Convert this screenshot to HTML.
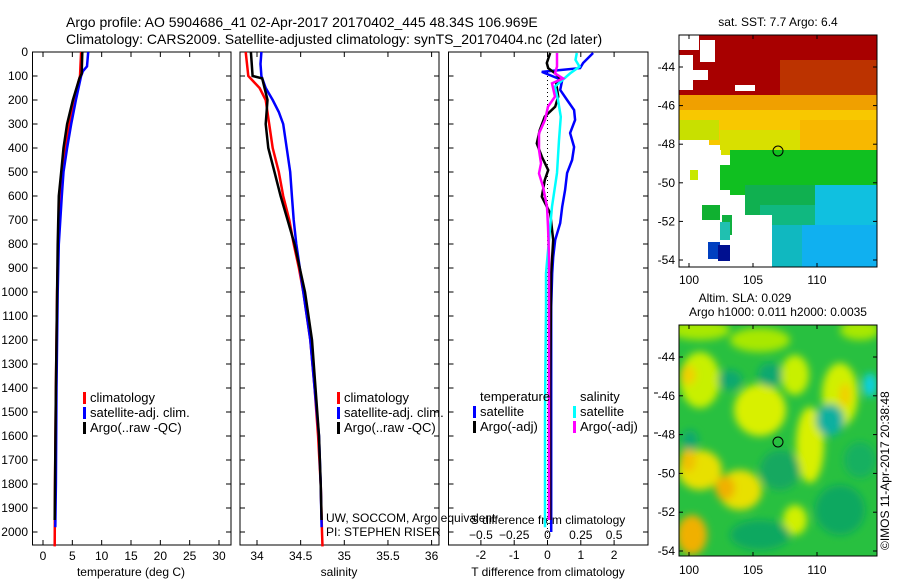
<!DOCTYPE html>
<html><head><meta charset="utf-8"><style>
html,body{margin:0;padding:0;background:#fff;}
svg{display:block;font-family:"Liberation Sans",sans-serif;}
</style></head><body>
<svg id="chart" width="900" height="580" viewBox="0 0 900 580" xmlns="http://www.w3.org/2000/svg">
<defs>
<filter id="blur" x="-20%" y="-20%" width="140%" height="140%"><feGaussianBlur stdDeviation="4"/></filter>
<clipPath id="m1clip"><rect x="679" y="35" width="198" height="232"/></clipPath>
<clipPath id="m2clip"><rect x="679" y="325" width="198" height="231"/></clipPath>
</defs>
<g font-size="14" fill="#000">
<text x="66" y="27">Argo profile: AO 5904686_41 02-Apr-2017 20170402_445 48.34S 106.969E</text>
<text x="66" y="44">Climatology: CARS2009. Satellite-adjusted climatology: synTS_20170404.nc (2d later)</text>
</g>

<!-- SST map -->
<g clip-path="url(#m1clip)">
<rect x="679" y="35" width="198" height="232" fill="#fff"/>
<rect x="679" y="35" width="198" height="65" fill="#a80000"/>
<rect x="780" y="60" width="97" height="60" fill="#c04000" opacity="0.8"/>
<rect x="679" y="95" width="198" height="25" fill="#f0a000"/>
<rect x="679" y="110" width="198" height="35" fill="#f8c800"/>
<rect x="679" y="120" width="40" height="20" fill="#c8e000"/>
<rect x="720" y="130" width="157" height="25" fill="#d8e000"/>
<rect x="800" y="120" width="77" height="35" fill="#f8b800"/>
<rect x="730" y="150" width="147" height="45" fill="#10c020"/>
<rect x="745" y="185" width="132" height="30" fill="#10b050"/>
<rect x="760" y="205" width="117" height="62" fill="#10b880"/>
<rect x="815" y="185" width="62" height="82" fill="#10c0e0"/>
<rect x="785" y="225" width="92" height="42" fill="#10b0f0"/>
<rect x="679" y="35" width="20" height="15" fill="#fff"/>
<rect x="700" y="40" width="15" height="22" fill="#fff"/>
<rect x="679" y="55" width="14" height="35" fill="#fff"/>
<rect x="693" y="70" width="15" height="10" fill="#fff"/>
<rect x="735" y="85" width="20" height="6" fill="#fff"/>
<rect x="679" y="140" width="30" height="127" fill="#fff"/>
<rect x="709" y="150" width="12" height="8" fill="#fff"/>
<rect x="700" y="160" width="30" height="107" fill="#fff"/>
<rect x="730" y="195" width="12" height="72" fill="#fff"/>
<rect x="742" y="215" width="30" height="52" fill="#fff"/>
<rect x="702" y="205" width="18" height="15" fill="#10b030"/>
<rect x="720" y="165" width="20" height="25" fill="#10c020"/>
<rect x="722" y="215" width="10" height="20" fill="#10b040"/>
<rect x="720" y="222" width="10" height="18" fill="#20c0b0"/>
<rect x="690" y="170" width="8" height="10" fill="#c8e800"/>
<rect x="708" y="242" width="12" height="17" fill="#0040c0"/>
<rect x="718" y="245" width="12" height="16" fill="#001090"/>
<rect x="772" y="225" width="30" height="42" fill="#10b8c0"/>
</g>
<circle cx="778" cy="151" r="5" fill="none" stroke="#000" stroke-width="1"/>
<rect x="679" y="35" width="198" height="232" fill="none" stroke="#000"/>
<text x="778" y="26" font-size="12" text-anchor="middle">sat. SST: 7.7 Argo: 6.4</text>

<!-- SLA map -->
<g clip-path="url(#m2clip)">
<rect x="679" y="325" width="198" height="231" fill="#28c040"/>
<g filter="url(#blur)">
<ellipse cx="700" cy="330" rx="30" ry="10" fill="#a8e800"/>
<ellipse cx="700" cy="380" rx="20" ry="28" fill="#c8f000"/>
<ellipse cx="688" cy="375" rx="8" ry="10" fill="#f0d000"/>
<ellipse cx="760" cy="410" rx="26" ry="26" fill="#d8f000"/>
<ellipse cx="795" cy="375" rx="14" ry="20" fill="#c8f000"/>
<ellipse cx="810" cy="445" rx="14" ry="38" fill="#d8f000"/>
<ellipse cx="840" cy="395" rx="18" ry="32" fill="#d0f000"/>
<ellipse cx="845" cy="395" rx="6" ry="12" fill="#f0d000"/>
<ellipse cx="700" cy="470" rx="22" ry="20" fill="#e8e000"/>
<ellipse cx="740" cy="490" rx="22" ry="20" fill="#e8e000"/>
<ellipse cx="725" cy="488" rx="10" ry="12" fill="#f0b000"/>
<ellipse cx="688" cy="460" rx="8" ry="12" fill="#f0c000"/>
<ellipse cx="692" cy="535" rx="15" ry="20" fill="#f0b000"/>
<ellipse cx="795" cy="520" rx="12" ry="15" fill="#d0f000"/>
<ellipse cx="760" cy="340" rx="30" ry="12" fill="#a8e800"/>
<ellipse cx="860" cy="330" rx="20" ry="10" fill="#a8e800"/>
<ellipse cx="830" cy="420" rx="14" ry="16" fill="#10b0a0"/>
<ellipse cx="870" cy="385" rx="7" ry="12" fill="#10d0e0"/>
<ellipse cx="770" cy="375" rx="12" ry="12" fill="#10a870"/>
<ellipse cx="730" cy="380" rx="12" ry="10" fill="#10a870"/>
<ellipse cx="690" cy="440" rx="8" ry="10" fill="#10a870"/>
<ellipse cx="760" cy="535" rx="30" ry="15" fill="#10a860"/>
<ellipse cx="840" cy="510" rx="25" ry="25" fill="#10a860"/>
<ellipse cx="780" cy="470" rx="20" ry="20" fill="#18a860"/>
<ellipse cx="860" cy="460" rx="16" ry="18" fill="#18b060"/>
</g>
</g>
<circle cx="778" cy="442" r="5" fill="none" stroke="#000" stroke-width="1"/>
<rect x="679" y="325" width="198" height="231" fill="none" stroke="#000"/>
<text x="745" y="302" font-size="12" text-anchor="middle">Altim. SLA: 0.029</text>
<text x="778" y="316" font-size="12" text-anchor="middle">Argo h1000: 0.011 h2000: 0.0035</text>
<text transform="translate(889,550) rotate(-90)" font-size="12">©IMOS 11-Apr-2017 20:38:48</text>

<g id="plots"></g>
</svg>
<script>
// ---------- data ----------
const tempClimDepth = [0,100,200,300,400,500,600,800,1000,1400,1800,2060];
const tempClim      = [6.5,6.3,5.2,4.5,3.8,3.3,2.9,2.6,2.4,2.2,2.05,2.0];
const tempSatDepth  = [0,60,80,100,200,300,400,500,600,800,1000,1400,1800,1980];
const tempSat       = [7.7,7.5,6.8,6.5,5.6,4.8,4.1,3.5,3.2,2.7,2.5,2.3,2.2,2.1];
const tempArgoDepth = [0,90,110,200,300,400,500,600,800,1000,1400,1950];
const tempArgo      = [6.7,6.6,6.2,5.1,4.1,3.5,3.1,2.7,2.5,2.4,2.2,2.0];

const salClimDepth = [0,100,150,200,300,400,500,600,700,800,900,1000,1200,1400,1600,1800,2000,2060];
const salClim      = [33.87,33.90,34.03,34.10,34.14,34.18,34.25,34.30,34.37,34.42,34.48,34.53,34.61,34.66,34.70,34.73,34.745,34.75];
const salSatDepth  = [0,50,100,150,200,250,300,400,500,600,700,800,900,1000,1200,1400,1600,1800,1980];
const salSat       = [34.05,34.04,34.05,34.10,34.18,34.25,34.30,34.34,34.38,34.40,34.42,34.45,34.49,34.53,34.61,34.66,34.71,34.73,34.74];
const salArgoDepth = [0,100,110,200,300,400,500,600,700,800,1000,1200,1400,1600,1800,1950];
const salArgo      = [33.93,33.95,34.06,34.12,34.10,34.13,34.20,34.27,34.35,34.43,34.55,34.63,34.67,34.71,34.73,34.74];

const dTSatDepth  = [4,46,67,83,117,158,200,242,283,338,396,450,504,575,645,713,783,854,921,1062,1500,2000];
const dTSat       = [1.37,1.07,0.98,-0.17,0.44,0.38,0.59,0.80,0.83,0.68,0.80,0.74,0.59,0.53,0.44,0.38,0.23,0.17,0.14,0.11,0.11,0.11];
const dTArgoDepth = [4,46,67,89,110,131,186,228,269,325,381,436,492,533,603,672,783,922,1400,1950];
const dTArgo      = [0.08,-0.02,0.02,0.23,0.38,0.26,0.32,0.23,-0.08,-0.23,-0.32,-0.17,0.02,-0.08,-0.17,0.08,0.17,0.11,0.08,0.08];
const dSSatDepth  = [4,33,61,89,144,200,270,367,504,644,783,922,1061,1500,1980];
const dSSat       = [0.22,0.21,0.24,0.17,0.056,0.079,0.10,0.086,0.071,0.034,0.011,-0.011,-0.011,-0.019,-0.019];
const dSArgoDepth = [4,61,89,110,131,186,228,283,339,408,464,506,561,644,728,853,1400,1950];
const dSArgo      = [0.071,0.071,0.056,0.117,0.034,0.056,0.004,-0.019,-0.064,-0.064,-0.049,-0.064,-0.034,-0.004,0.004,0.011,0.011,0.011];

const depthTicks = [0,100,200,300,400,500,600,700,800,900,1000,1100,1200,1300,1400,1500,1600,1700,1800,1900,2000];
const tempTicks = [0,5,10,15,20,25,30];
const salTicks = [34,34.5,35,35.5,36];
const salTickLabels = ["34","34.5","35","35.5","36"];
const dTTicks = [-2,-1,0,1,2];
const dSTicks = [-0.5,-0.25,0,0.25,0.5];
const dSTickLabels = ["\u22120.5","\u22120.25","0","0.25","0.5"];
const mapLonTicks = [100,105,110];
const sstLatTicks = [-44,-46,-48,-50,-52,-54];
const slaLatTicks = [-44,-46,-48,-50,-52,-54];

// ---------- axes ----------
const NS='http://www.w3.org/2000/svg';
const root=document.getElementById('plots');
const TOP=52, BOT=545;
const yD = d => 52 + d*0.24;
const xT = v => 43 + v*5.867;
const xS = v => 257 + (v-34)*87.3;
const xDT = v => 547.5 + v*33.3;
const xDS = v => 547.5 + v*133.2;
const lonX = v => 689 + (v-100)*12.8;
const lat1Y = v => 67 + (-44 - v)*19.3;
const lat2Y = v => 357 + (-44 - v)*19.4;

function mk(tag, attrs, parent){const e=document.createElementNS(NS,tag);for(const k in attrs)e.setAttribute(k,attrs[k]);(parent||root).appendChild(e);return e;}
function txt(x,y,s,anchor,size,parent){const t=mk('text',{x:x,y:y,'font-size':size||12,'text-anchor':anchor||'middle'},parent);t.textContent=s;return t;}

function panel(name,x0,x1){
  const g=mk('g',{});
  
  
  const r=mk('rect',{x:x0,y:TOP,width:x1-x0,height:BOT-TOP,fill:'none',stroke:'#000','stroke-width':1},g);
  
  
  depthTicks.forEach(d=>{mk('line',{x1:x0,x2:x0+5,y1:yD(d),y2:yD(d),stroke:'#000'},g);mk('line',{x1:x1,x2:x1-5,y1:yD(d),y2:yD(d),stroke:'#000'},g);});
  return g;
}
function series(g,name,depths,vals,xf,color){
  const pts=depths.map((d,i)=>xf(vals[i]).toFixed(1)+','+yD(d).toFixed(1)).join(' ');
  const p=mk('polyline',{points:pts,fill:'none',stroke:color,'stroke-width':2.5,'stroke-linejoin':'miter'},g);
  
  
}
function legend(g,name,x,y,items){
  const lg=mk('g',{},g);
  
  
  items.forEach((it,i)=>{
    if(it[1]) mk('rect',{x:x,y:y+i*15-10,width:3,height:12,fill:it[1]},lg);
    txt(x+7,y+i*15,it[0],'start',13,lg);
  });
}

// depth labels
const dl=mk('g',{});


depthTicks.forEach(d=>txt(28,yD(d)+4,String(d),'end',12,dl));

// Panel 1: temperature
const p1=panel('temperature-panel',32.5,231);
tempTicks.forEach(v=>{mk('line',{x1:xT(v),x2:xT(v),y1:TOP,y2:TOP+5,stroke:'#000'},p1);mk('line',{x1:xT(v),x2:xT(v),y1:BOT,y2:BOT-5,stroke:'#000'},p1);txt(xT(v),560,String(v),'middle',12,p1);});
txt(131,576,'temperature (deg C)','middle',12,p1);
series(p1,'temperature-climatology-line',tempClimDepth,tempClim,xT,'#ff0000');
series(p1,'temperature-satellite-line',tempSatDepth,tempSat,xT,'#0000ff');
series(p1,'temperature-argo-line',tempArgoDepth,tempArgo,xT,'#000000');
legend(p1,'temperature-legend',83,402,[['climatology','#ff0000'],['satellite-adj. clim.','#0000ff'],['Argo(..raw -QC)','#000']]);

// Panel 2: salinity
const p2=panel('salinity-panel',240,439);
salTicks.forEach((v,i)=>{mk('line',{x1:xS(v),x2:xS(v),y1:TOP,y2:TOP+5,stroke:'#000'},p2);mk('line',{x1:xS(v),x2:xS(v),y1:BOT,y2:BOT-5,stroke:'#000'},p2);txt(xS(v),560,salTickLabels[i],'middle',12,p2);});
txt(339,576,'salinity','middle',12,p2);
series(p2,'salinity-climatology-line',salClimDepth,salClim,xS,'#ff0000');
series(p2,'salinity-satellite-line',salSatDepth,salSat,xS,'#0000ff');
series(p2,'salinity-argo-line',salArgoDepth,salArgo,xS,'#000000');
legend(p2,'salinity-legend',337,402,[['climatology','#ff0000'],['satellite-adj. clim.','#0000ff'],['Argo(..raw -QC)','#000']]);
txt(326,522,'UW, SOCCOM, Argo equivalent','start',12,p2);
txt(326,536,'PI: STEPHEN RISER','start',12,p2);

// Panel 3: differences
const p3=panel('difference-panel',448.5,648);
dTTicks.forEach(v=>{mk('line',{x1:xDT(v),x2:xDT(v),y1:TOP,y2:TOP+5,stroke:'#000'},p3);mk('line',{x1:xDT(v),x2:xDT(v),y1:BOT,y2:BOT-5,stroke:'#000'},p3);txt(xDT(v),559,String(v),'middle',12,p3);});
dSTicks.forEach((v,i)=>txt(xDS(v),539,dSTickLabels[i],'middle',12,p3));
txt(548,576,'T difference from climatology','middle',12,p3);
txt(548,524,'S difference from climatology','middle',12,p3);
mk('line',{x1:xDT(0),x2:xDT(0),y1:TOP,y2:BOT,stroke:'#000','stroke-dasharray':'1,3'},p3);
series(p3,'t-difference-satellite-line',dTSatDepth,dTSat,xDT,'#0000ff');
series(p3,'t-difference-argo-line',dTArgoDepth,dTArgo,xDT,'#000000');
series(p3,'s-difference-satellite-line',dSSatDepth,dSSat,xDS,'#00ffff');
series(p3,'s-difference-argo-line',dSArgoDepth,dSArgo,xDS,'#ff00ff');
legend(p3,'t-difference-legend',473,401,[['temperature',null],['satellite','#0000ff'],['Argo(-adj)','#000']]);
legend(p3,'s-difference-legend',573,401,[['salinity',null],['satellite','#00ffff'],['Argo(-adj)','#ff00ff']]);
[393,433].forEach(y=>mk('line',{x1:654,x2:658,y1:y,y2:y,stroke:'#000'},p3));

// map axes
const ma=mk('g',{});


mapLonTicks.forEach(v=>{
  mk('line',{x1:lonX(v),x2:lonX(v),y1:35,y2:39,stroke:'#000'},ma);mk('line',{x1:lonX(v),x2:lonX(v),y1:267,y2:263,stroke:'#000'},ma);
  txt(lonX(v),284,String(v),'middle',12,ma);
  mk('line',{x1:lonX(v),x2:lonX(v),y1:325,y2:329,stroke:'#000'},ma);mk('line',{x1:lonX(v),x2:lonX(v),y1:556,y2:552,stroke:'#000'},ma);
  txt(lonX(v),574,String(v),'middle',12,ma);
});
sstLatTicks.forEach(v=>{mk('line',{x1:679,x2:683,y1:lat1Y(v),y2:lat1Y(v),stroke:'#000'},ma);mk('line',{x1:877,x2:873,y1:lat1Y(v),y2:lat1Y(v),stroke:'#000'},ma);txt(675,lat1Y(v)+4,String(v),'end',12,ma);});
slaLatTicks.forEach(v=>{mk('line',{x1:679,x2:683,y1:lat2Y(v),y2:lat2Y(v),stroke:'#000'},ma);mk('line',{x1:877,x2:873,y1:lat2Y(v),y2:lat2Y(v),stroke:'#000'},ma);txt(675,lat2Y(v)+4,String(v),'end',12,ma);});
</script>
</body></html>
